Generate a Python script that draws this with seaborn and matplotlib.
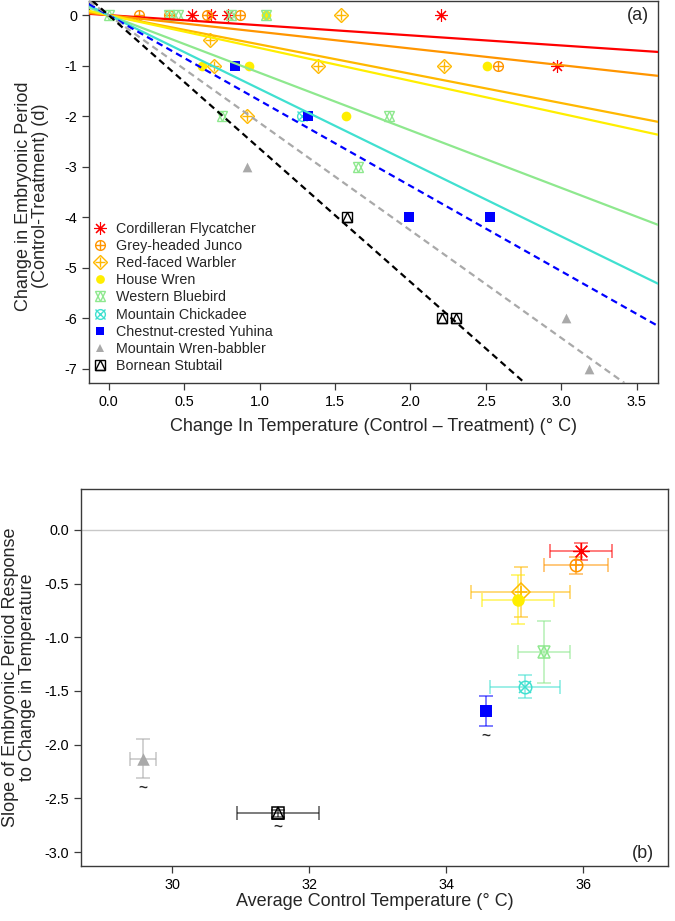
import numpy as np
import pandas as pd
import matplotlib
matplotlib.use("Agg")
import matplotlib.pyplot as plt
import seaborn as sns
from matplotlib.lines import Line2D

# ---- data -----------------------------------------------------------------
species = ["Cordilleran Flycatcher", "Grey-headed Junco", "Red-faced Warbler",
           "House Wren", "Western Bluebird", "Mountain Chickadee",
           "Chestnut-crested Yuhina", "Mountain Wren-babbler", "Bornean Stubtail"]

# panel (a): change in temperature (C) vs change in embryonic period (d)
dtemp_flycatcher = [0.55, 0.68, 0.79, 2.20, 2.97]
dper_flycatcher = [0, 0, 0, 0, -1]
dtemp_junco = [0.20, 0.40, 0.65, 0.87, 2.58]
dper_junco = [0, 0, 0, 0, -1]
dtemp_warbler = [1.54, 0.67, 0.70, 1.39, 2.22, 0.92]
dper_warbler = [0, -0.5, -1, -1, -1, -2]
dtemp_wren = [1.04, 0.62, 0.93, 2.51, 1.57]
dper_wren = [0, -1, -1, -1, -2]
dtemp_bluebird = [0.0, 0.40, 0.46, 0.81, 1.04, 0.75, 1.86, 1.65]
dper_bluebird = [0, 0, 0, 0, 0, -2, -2, -3]
dtemp_chickadee = [1.28]
dper_chickadee = [-2]
dtemp_yuhina = [0.84, 1.32, 1.99, 2.53]
dper_yuhina = [-1, -2, -4, -4]
dtemp_babbler = [0.92, 3.03, 3.18]
dper_babbler = [-3, -6, -7]
dtemp_stubtail = [1.58, 2.21, 2.30]
dper_stubtail = [-4, -6, -6]

# panel (b): average control temperature vs slope of response
ctrl_temp = [35.97, 35.90, 35.09, 35.05, 35.43, 35.15, 34.58, 29.58, 31.55]
ctrl_temp_se = [0.45, 0.47, 0.72, 0.53, 0.38, 0.51, 0.0, 0.19, 0.60]
slope = [-0.20, -0.33, -0.58, -0.65, -1.14, -1.46, -1.69, -2.13, -2.64]
slope_se = [0.08, 0.08, 0.23, 0.23, 0.29, 0.11, 0.14, 0.18, 0.03]
flagged = [False, False, False, False, False, False, True, True, True]

points = pd.concat([
    pd.DataFrame({"species": sp, "dtemp": x, "dper": y})
    for sp, x, y in zip(species,
                        [dtemp_flycatcher, dtemp_junco, dtemp_warbler, dtemp_wren,
                         dtemp_bluebird, dtemp_chickadee, dtemp_yuhina,
                         dtemp_babbler, dtemp_stubtail],
                        [dper_flycatcher, dper_junco, dper_warbler, dper_wren,
                         dper_bluebird, dper_chickadee, dper_yuhina,
                         dper_babbler, dper_stubtail])
], ignore_index=True)

# ---- styles ---------------------------------------------------------------
colors = ["#FF0000", "#FF9500", "#FFB800", "#FFEE00", "#8EE88E",
          "#40E0D0", "#0000FF", "#A9A9A9", "#000000"]
ASTER = (8, 2, 0)
markers = [[(ASTER, "line")],
           [("o", "hollow"), ("+", "line")],
           [("D", "hollow"), ("+", "line")],
           [("o", "filled")],
           [("^", "hollow"), ("v", "hollow")],
           [("o", "hollow"), ("x", "line")],
           [("s", "filled")],
           [("^", "filled")],
           [("s", "hollow"), ("^", "hollow")]]
dashed = [False] * 6 + [True] * 3

sns.set_theme(style="ticks")
plt.rcParams["font.family"] = ["Liberation Sans", "DejaVu Sans"]
plt.rcParams["axes.unicode_minus"] = False
SPINE = "#3a3a3a"


def draw_points(ax, x, y, color, spec, ms, mew, alpha=1.0, zorder=3):
    parts = []
    for m, kind in spec:
        if kind == "filled":
            sns.scatterplot(x=x, y=y, ax=ax, marker=m, s=ms ** 2, color=color,
                            edgecolor=color, linewidth=0, alpha=alpha,
                            zorder=zorder, legend=False)
            parts.append(Line2D([], [], ls="none", marker=m, ms=ms * 0.9,
                                mfc=color, mec=color, mew=0, alpha=alpha))
        else:
            size, width = ms, mew
            if m == ASTER:
                size, width = ms * 1.3, mew * 0.8
            kw = dict(ls="none", marker=m, ms=size, mew=width, color=color, alpha=alpha)
            if kind == "hollow":
                kw.update(mfc="none", mec=color)
            ax.plot(x, y, zorder=zorder, **kw)
            parts.append(Line2D([], [], **kw))
    return tuple(parts)


def style_axes(ax):
    for sp in ax.spines.values():
        sp.set_visible(True)
        sp.set_color(SPINE)
        sp.set_linewidth(1.0)
    ax.tick_params(direction="out", length=5, width=0.9, color=SPINE,
                   labelsize=10.4, labelcolor="black", top=False, right=False)


fig = plt.figure(figsize=(6.75, 9.21), dpi=100)
ax1 = fig.add_axes([89 / 675, 1 - 383 / 921, (658 - 89) / 675, 382 / 921])
ax2 = fig.add_axes([81 / 675, 1 - 866 / 921, (668 - 81) / 675, (866 - 489) / 921])

# ---- panel (a) ------------------------------------------------------------
handles = []
for i, sp in enumerate(species):
    d = points[points["species"] == sp]
    handles.append(draw_points(ax1, d["dtemp"].tolist(), d["dper"].tolist(),
                               colors[i], markers[i], ms=7, mew=1.0, zorder=2))
for i, sp in enumerate(species):
    ax1.axline((0, 0), slope=slope[i], color=colors[i], lw=1.6,
               ls=(0, (3, 2)) if dashed[i] else "-", zorder=3)

ax1.set_xlim(-0.13, 3.64)
ax1.set_ylim(-7.28, 0.28)
ax1.set_xticks(np.arange(0, 3.51, 0.5))
ax1.set_xticklabels([f"{t:.1f}" for t in np.arange(0, 3.51, 0.5)])
ax1.set_yticks(range(0, -8, -1))
style_axes(ax1)
ax1.set_xlabel("Change In Temperature (Control \u2013 Treatment) (\u00b0 C)", fontsize=13)
ax1.set_ylabel("Change in Embryonic Period\n(Control-Treatment) (d)", fontsize=13,
               linespacing=1.0)
ax1.xaxis.set_label_coords(0.5, -0.092)
ax1.yaxis.set_label_coords(-0.07, 0.49)
ax1.text(0.965, 0.963, "(a)", transform=ax1.transAxes, fontsize=13,
         ha="center", va="center")
ax1.legend(handles, species, loc="lower left", bbox_to_anchor=(-0.01, 0.0),
           frameon=False, fontsize=10.3, handlelength=1.0, handletextpad=0.6,
           labelspacing=0.22, borderaxespad=0.3)

# ---- panel (b) ------------------------------------------------------------
ax2.axhline(0, color="#c8c8c8", lw=1.0, zorder=1)
for i, sp in enumerate(species):
    ax2.errorbar(ctrl_temp[i], slope[i],
                 xerr=ctrl_temp_se[i] if ctrl_temp_se[i] > 0 else None,
                 yerr=slope_se[i], fmt="none", ecolor=colors[i], alpha=0.6,
                 elinewidth=1.2, capsize=5, capthick=1.2, zorder=2)
    draw_points(ax2, [ctrl_temp[i]], [slope[i]], colors[i], markers[i],
                ms=9, mew=1.1, zorder=3)
    if flagged[i]:
        ax2.annotate("~", xy=(ctrl_temp[i], slope[i] - slope_se[i]),
                     xytext=(0, -7), textcoords="offset points",
                     ha="center", va="center", fontsize=11, fontweight="bold")

ax2.set_xlim(28.67, 37.24)
ax2.set_ylim(-3.13, 0.38)
ax2.set_xticks([30, 32, 34, 36])
ax2.set_yticks(np.arange(0, -3.01, -0.5))
ax2.set_yticklabels([f"{t:.1f}" for t in np.arange(0, -3.01, -0.5)])
style_axes(ax2)
ax2.set_xlabel("Average Control Temperature (\u00b0 C)", fontsize=13)
ax2.set_ylabel("Slope of Embryonic Period Response\nto Change in Temperature",
               fontsize=13, linespacing=1.0)
ax2.xaxis.set_label_coords(0.5, -0.072)
ax2.yaxis.set_label_coords(-0.077, 0.5)
ax2.text(0.957, 0.034, "(b)", transform=ax2.transAxes, fontsize=13,
         ha="center", va="center")

fig.savefig("out.png", dpi=100)
